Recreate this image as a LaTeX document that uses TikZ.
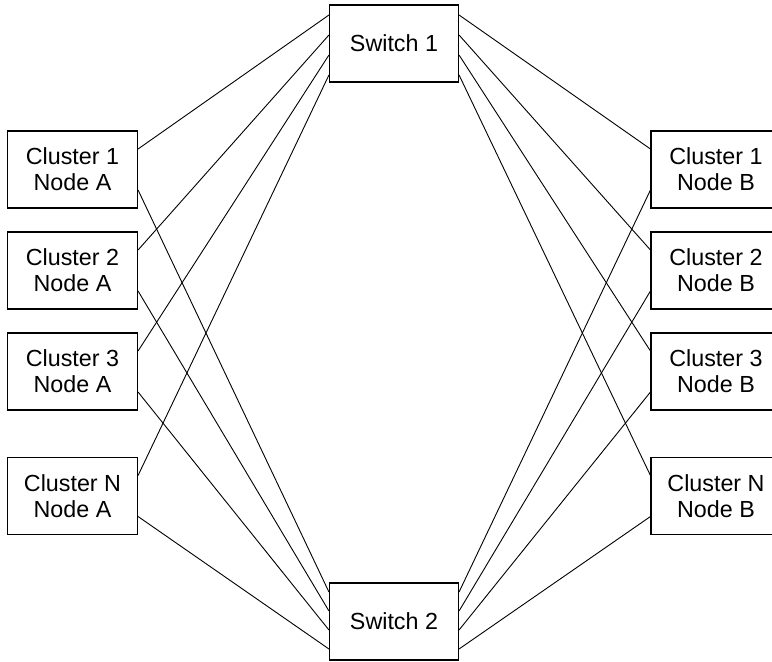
\documentclass[tikz,border=0pt]{standalone}
\usepackage{fontspec}
\setmainfont{Liberation Sans}
\usetikzlibrary{calc}
\begin{document}
\begin{tikzpicture}[x=1pt,y=-1pt,
  box/.style={draw,line width=1.1pt,rectangle,minimum width=130pt,minimum height=77pt,inner sep=0pt,align=center,font=\fontsize{23.3pt}{26pt}\selectfont},
  sw/.style={box,minimum width=129pt},
  link/.style={line width=0.9pt}]
\useasboundingbox (0,0) rectangle (772,662);
\clip (0,0) rectangle (772,662);
\node[sw] (s1) at (394,43.5) {Switch 1};
\node[sw] (s2) at (394,621.5) {Switch 2};
\node[box] (a1) at (72.5,169.5) {Cluster 1\\Node A};
\node[box] (a2) at (72.5,270.5) {Cluster 2\\Node A};
\node[box] (a3) at (72.5,371.5) {Cluster 3\\Node A};
\node[box] (a4) at (72.5,496) {Cluster N\\Node A};
\node[box] (b1) at (716,169.5) {Cluster 1\\Node B};
\node[box] (b2) at (716,270.5) {Cluster 2\\Node B};
\node[box] (b3) at (716,371.5) {Cluster 3\\Node B};
\node[box] (b4) at (716,496) {Cluster N\\Node B};
% switch ports
\foreach \i/\dy in {1/-28.5,2/-8.5,3/11.5,4/31.5}{
  \coordinate (s1l\i) at ($(s1.west)+(0,\dy)$);
  \coordinate (s1r\i) at ($(s1.east)+(0,\dy)$);
}
\foreach \i/\dy in {1/-29.5,2/-10.5,3/8.5,4/27.5}{
  \coordinate (s2l\i) at ($(s2.west)+(0,\dy)$);
  \coordinate (s2r\i) at ($(s2.east)+(0,\dy)$);
}
\foreach \i in {1,2,3,4}{
  \coordinate (a\i u) at ($(a\i.east)+(0,-20.5)$);
  \coordinate (a\i d) at ($(a\i.east)+(0,20.5)$);
  \coordinate (b\i u) at ($(b\i.west)+(0,-20.5)$);
  \coordinate (b\i d) at ($(b\i.west)+(0,20.5)$);
  \draw[link] (a\i u) -- (s1l\i);
  \draw[link] (a\i d) -- (s2l\i);
  \draw[link] (b\i u) -- (s1r\i);
  \draw[link] (b\i d) -- (s2r\i);
}
\end{tikzpicture}
\end{document}
